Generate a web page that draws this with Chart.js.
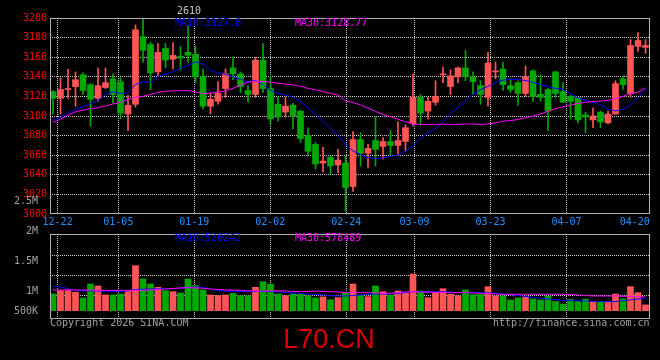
<!DOCTYPE html>
<html lang="zh-CN">
<head>
<meta charset="UTF-8" />
<title>L70.CN</title>
<style>
  * { margin: 0; padding: 0; box-sizing: border-box; }
  body { background: #000; width: 660px; height: 360px; overflow: hidden; }
  #board { position: relative; width: 660px; height: 360px; background: #000;
           font: 10px/12px "DejaVu Sans Mono", monospace; }
  #board canvas { position: absolute; left: 0; top: 0; }
  .txt { position: absolute; white-space: pre; }
  .blue { color: #0000ff; }
  .pink { color: #ff00ff; }
  .grey { color: #a0a0a0; }
  #code { left: 0; width: 658px; top: 326px; text-align: center;
          font: 27px/27px "Liberation Sans", Arial, sans-serif; color: #dd0000; }
</style>
</head>
<body>
<div id="board">
  <canvas id="price" width="660" height="360"></canvas>
  <canvas id="volume" width="660" height="360"></canvas>
  <div class="txt" style="left:177px;top:5px;color:#c8c8c8">2610</div>
  <div class="txt blue" style="left:175px;top:17px">MA10:3127.8</div>
  <div class="txt pink" style="left:295px;top:17px">MA30:3128.77</div>
  <div class="txt blue" style="left:175px;top:232px">MA10:520242</div>
  <div class="txt pink" style="left:295px;top:232px">MA30:578489</div>
  <div class="txt grey" style="left:50px;top:317px">Copyright 2026 SINA.COM</div>
  <div class="txt grey" style="left:493px;top:317px">http://finance.sina.com.cn</div>
  <div class="txt" id="code">L70.CN</div>
</div>

<script src="https://cdn.jsdelivr.net/npm/chart.js"></script>
<script>
  // trading days shown, oldest first
  const dates = [
    "12-19", "12-22", "12-23", "12-24", "12-25", "12-26", "12-29", "12-30", "12-31",
    "01-05", "01-06", "01-07", "01-08", "01-09", "01-12", "01-13", "01-14", "01-15", "01-16",
    "01-19", "01-20", "01-21", "01-22", "01-23", "01-26", "01-27", "01-28", "01-29", "01-30",
    "02-02", "02-03", "02-04", "02-05", "02-06", "02-09", "02-10", "02-11", "02-12", "02-13",
    "02-24", "02-25", "02-26", "02-27", "03-02", "03-03", "03-04", "03-05", "03-06",
    "03-09", "03-10", "03-11", "03-12", "03-13", "03-16", "03-17", "03-18", "03-19", "03-20",
    "03-23", "03-24", "03-25", "03-26", "03-27", "03-30", "03-31", "04-01", "04-02", "04-03",
    "04-07", "04-08", "04-09", "04-10", "04-13", "04-14", "04-15", "04-16", "04-17",
    "04-20", "04-21", "04-22"
  ];
  const dateTicks = ["12-22", "01-05", "01-19", "02-02", "02-24", "03-09", "03-23", "04-07", "04-20"];

  const open = [
    3125, 3118, 3127, 3130, 3142, 3132, 3118, 3129, 3138, 3135,
    3102, 3112, 3181, 3173, 3145, 3169, 3158, 3161, 3165, 3163,
    3140, 3110, 3115, 3128, 3149, 3143, 3126, 3122, 3157, 3128,
    3112, 3104, 3111, 3105, 3080, 3071, 3052, 3058, 3050, 3052,
    3028, 3076, 3062, 3075, 3069, 3074, 3070, 3074, 3092, 3119,
    3105, 3114, 3142, 3130, 3140, 3149, 3140, 3131, 3119, 3145,
    3148, 3131, 3134, 3123, 3146, 3122, 3127, 3145, 3125, 3120,
    3119, 3101, 3096, 3104, 3093, 3102, 3138, 3123, 3171, 3170
  ];
  const high = [
    3126, 3139, 3148, 3145, 3144, 3133, 3149, 3149, 3143, 3139,
    3121, 3193, 3199, 3175, 3174, 3174, 3175, 3171, 3192, 3171,
    3148, 3123, 3135, 3148, 3160, 3145, 3131, 3160, 3174, 3140,
    3119, 3119, 3113, 3106, 3088, 3073, 3068, 3059, 3066, 3059,
    3084, 3083, 3071, 3099, 3078, 3085, 3094, 3091, 3143, 3122,
    3119, 3136, 3150, 3147, 3150, 3167, 3145, 3136, 3165, 3155,
    3155, 3138, 3136, 3151, 3147, 3142, 3128, 3146, 3134, 3121,
    3119, 3104, 3108, 3105, 3105, 3136, 3141, 3178, 3185, 3178
  ];
  const low = [
    3102, 3102, 3118, 3110, 3122, 3090, 3115, 3128, 3113, 3097,
    3085, 3109, 3155, 3127, 3141, 3149, 3148, 3147, 3155, 3134,
    3107, 3102, 3112, 3119, 3137, 3124, 3114, 3119, 3124, 3092,
    3095, 3099, 3087, 3073, 3059, 3046, 3043, 3041, 3042, 3003,
    3023, 3049, 3047, 3049, 3056, 3060, 3061, 3064, 3090, 3091,
    3097, 3111, 3134, 3122, 3134, 3136, 3122, 3112, 3110, 3138,
    3126, 3124, 3111, 3120, 3115, 3115, 3085, 3119, 3114, 3097,
    3093, 3083, 3088, 3088, 3092, 3102, 3127, 3119, 3166, 3164
  ];
  const close = [
    3118, 3127, 3128, 3137, 3126, 3117, 3131, 3134, 3122, 3103,
    3111, 3188, 3167, 3144, 3165, 3157, 3162, 3159, 3162, 3140,
    3110, 3117, 3123, 3143, 3143, 3130, 3122, 3157, 3128, 3097,
    3099, 3110, 3100, 3077, 3064, 3051, 3054, 3049, 3055, 3027,
    3076, 3062, 3067, 3066, 3074, 3070, 3075, 3088, 3119, 3103,
    3115, 3120, 3143, 3141, 3149, 3140, 3135, 3122, 3154, 3146,
    3132, 3127, 3123, 3140, 3120, 3119, 3105, 3123, 3114, 3115,
    3096, 3099, 3100, 3094, 3102, 3133, 3132, 3172, 3177, 3172
  ];
  const ma10 = [
    3095.5, 3098.6, 3102.7, 3106.8, 3109.3, 3112.9, 3116.0, 3122.1, 3124.7, 3123.1,
    3123.6, 3132.3, 3134.7, 3134.7, 3140.5, 3142.6, 3145.1, 3148.2, 3151.8, 3155.2,
    3152.8, 3146.2, 3144.1, 3142.6, 3139.8, 3137.5, 3134.7, 3136.4, 3131.8, 3126.2,
    3123.0, 3121.6, 3119.0, 3114.6, 3108.3, 3101.6, 3094.5, 3086.8, 3080.1, 3071.0,
    3064.3, 3060.7, 3057.6, 3056.6, 3057.1, 3058.7, 3060.2, 3064.3, 3069.9, 3077.1,
    3082.7, 3087.3, 3093.5, 3102.7, 3108.8, 3115.0, 3122.1, 3126.7, 3130.3, 3133.9,
    3136.7, 3137.5, 3137.3, 3136.1, 3134.4, 3132.0, 3129.8, 3128.2, 3127.2, 3122.6,
    3118.5, 3116.0, 3113.9, 3111.4, 3106.8, 3105.2, 3106.8, 3111.4, 3118.0, 3127.8
  ];
  const ma30 = [
    3093.4, 3096.8, 3100.6, 3104.2, 3106.0, 3107.5, 3108.4, 3110.3, 3112.3, 3113.9,
    3117.0, 3119.0, 3120.1, 3122.1, 3124.2, 3125.2, 3125.7, 3125.9, 3125.9, 3124.5,
    3122.8, 3123.4, 3124.2, 3125.7, 3128.2, 3131.5, 3134.7, 3135.7, 3135.2, 3134.4,
    3133.4, 3132.6, 3131.8, 3130.3, 3128.2, 3126.7, 3125.0, 3123.1, 3121.4, 3115.5,
    3113.7, 3111.4, 3108.1, 3104.7, 3101.6, 3099.3, 3096.7, 3094.2, 3091.9, 3091.4,
    3091.4, 3091.4, 3091.7, 3091.4, 3091.4, 3091.9, 3091.9, 3091.4, 3091.9, 3093.1,
    3094.8, 3095.2, 3096.5, 3098.1, 3099.9, 3102.2, 3104.7, 3107.5, 3109.3, 3111.1,
    3112.9, 3113.9, 3114.7, 3115.3, 3115.8, 3117.8, 3120.1, 3122.8, 3124.2, 3128.8
  ];

  const volume = [
    701000, 840000, 840000, 773000, 533000, 1121000, 1037000, 659000, 659000, 701000,
    840000, 1890000, 1331000, 1121000, 979000, 840000, 798000, 743000, 1331000, 1050000,
    869000, 659000, 630000, 659000, 727000, 630000, 617000, 979000, 1218000, 1121000,
    701000, 630000, 701000, 701000, 630000, 533000, 575000, 462000, 546000, 735000,
    1121000, 659000, 588000, 1037000, 798000, 659000, 827000, 727000, 1541000, 827000,
    546000, 756000, 924000, 685000, 622000, 869000, 672000, 680000, 1008000, 622000,
    622000, 449000, 533000, 567000, 491000, 449000, 609000, 386000, 281000, 470000,
    386000, 483000, 386000, 386000, 386000, 701000, 491000, 1008000, 756000, 244000
  ];
  const volMa10 = [
    1037000, 995000, 932000, 848000, 827000, 827000, 827000, 819000, 806000, 806000,
    827000, 890000, 899000, 911000, 911000, 924000, 932000, 941000, 974000, 995000,
    974000, 911000, 848000, 827000, 806000, 806000, 798000, 806000, 806000, 798000,
    785000, 764000, 743000, 722000, 701000, 680000, 659000, 638000, 617000, 617000,
    638000, 659000, 680000, 701000, 701000, 701000, 722000, 764000, 798000, 798000,
    798000, 798000, 798000, 785000, 764000, 756000, 756000, 756000, 743000, 731000,
    701000, 672000, 638000, 596000, 554000, 521000, 491000, 462000, 437000, 420000,
    416000, 407000, 395000, 378000, 378000, 386000, 416000, 449000, 491000, 520242
  ];
  const volMa30 = [
    869000, 869000, 869000, 869000, 865000, 861000, 857000, 853000, 849000, 853000,
    849000, 857000, 857000, 869000, 890000, 911000, 932000, 953000, 966000, 953000,
    941000, 911000, 890000, 869000, 869000, 848000, 827000, 827000, 827000, 827000,
    827000, 827000, 806000, 798000, 806000, 827000, 806000, 798000, 785000, 764000,
    764000, 756000, 756000, 743000, 731000, 731000, 752000, 785000, 798000, 785000,
    773000, 773000, 773000, 756000, 756000, 756000, 743000, 731000, 714000, 701000,
    689000, 689000, 689000, 689000, 689000, 689000, 689000, 689000, 689000, 680000,
    659000, 638000, 617000, 617000, 617000, 617000, 610000, 600000, 590000, 578489
  ];
  const volTickLabels = ["2.5M", "2M", "1.5M", "1M", "500K"];

  Chart.defaults.font.family = '"DejaVu Sans Mono", monospace';
  Chart.defaults.font.size = 10;
  Chart.defaults.animation = false;
  Chart.defaults.plugins.legend.display = false;
  Chart.defaults.plugins.tooltip.enabled = false;

  const UP = "#ff5555";
  const DOWN = "#00a800";
  const GRID = "#c8c8c8";

  const candleColor = close.map((c, i) => (c >= open[i] ? UP : DOWN));
  const pts = arr => arr.map((y, x) => ({ x, y }));

  // candles sit on a 7.5px slot, sina's date grid uses a slightly wider step
  const X_MIN = -0.4;
  const X_MAX = X_MIN + dates.length;
  const gridStep = dates.length / (dates.length - 1);
  const tickPos = dateTicks.map(d => X_MIN + dates.indexOf(d) * gridStep);

  const frame = {
    id: "frame",
    afterDraw(chart) {
      const { ctx, chartArea: a } = chart;
      ctx.save();
      ctx.strokeStyle = "#b0b0b0";
      ctx.lineWidth = 1;
      ctx.strokeRect(a.left + 0.5, a.top + 0.5, a.right - a.left - 1, a.bottom - a.top - 1);
      ctx.restore();
    }
  };

  function dateAxis(height, showLabels) {
    return {
      type: "linear",
      min: X_MIN,
      max: X_MAX,
      bounds: "data",
      offset: false,
      afterBuildTicks: s => { s.ticks = tickPos.map(v => ({ value: v })); },
      afterFit: s => { s.height = height; },
      grid: {
        drawTicks: false,
        offset: false,
        color: c => (c.index === dateTicks.length - 1 ? "transparent" : GRID)
      },
      border: { display: false, dash: [1, 1] },
      ticks: {
        display: showLabels,
        autoSkip: false,
        maxRotation: 0,
        padding: 2,
        color: "#1e90ff",
        callback: (v, i) => dateTicks[i]
      }
    };
  }

  new Chart(document.getElementById("price"), {
    type: "bar",
    data: {
      datasets: [
        { type: "line", data: pts(ma30), borderColor: "#ff00ff", borderWidth: 1, pointRadius: 0, order: 0 },
        { type: "line", data: pts(ma10), borderColor: "#0000ff", borderWidth: 1, pointRadius: 0, order: 1 },
        {
          data: open.map((o, i) => ({ x: i, y: [o, close[i]] })),
          backgroundColor: candleColor, barThickness: 6, minBarLength: 1, grouped: false, order: 2
        },
        {
          data: low.map((l, i) => ({ x: i, y: [l, high[i]] })),
          backgroundColor: candleColor, barThickness: 1, grouped: false, order: 3
        }
      ]
    },
    options: {
      responsive: false,
      layout: { padding: { top: 18, right: 10, left: 0, bottom: 0 } },
      scales: {
        x: dateAxis(146, true),
        y: {
          min: 3000,
          max: 3200,
          afterFit: s => { s.width = 50; },
          grid: {
            drawTicks: false,
            color: c => (c.tick.value === 3000 || c.tick.value === 3200 ? "transparent" : GRID)
          },
          border: { display: false, dash: [1, 1] },
          ticks: { stepSize: 20, padding: 3, color: "#ff0000", callback: v => String(v) }
        }
      }
    },
    plugins: [frame]
  });

  // volume panel: bars read 42k per pixel, zero sits a little above the frame bottom
  const VOL_MAX = 3220000;
  const VOL_MIN = -350000;
  const volAt = row => VOL_MAX - (row - 234) * 42000;

  new Chart(document.getElementById("volume"), {
    type: "bar",
    data: {
      datasets: [
        { type: "line", data: pts(volMa30), borderColor: "#ff00ff", borderWidth: 1, pointRadius: 0, yAxisID: "yv", order: 0 },
        { type: "line", data: pts(volMa10), borderColor: "#0000ff", borderWidth: 1, pointRadius: 0, yAxisID: "yv", order: 1 },
        {
          data: pts(volume), backgroundColor: candleColor, barThickness: 6,
          grouped: false, yAxisID: "yv", order: 2
        }
      ]
    },
    options: {
      responsive: false,
      layout: { padding: { top: 234, right: 10, left: 0, bottom: 0 } },
      scales: {
        x: dateAxis(41, false),
        yl: {
          type: "linear",
          position: "left",
          min: VOL_MIN,
          max: VOL_MAX,
          bounds: "data",
          afterFit: s => { s.width = 50; },
          // sina prints these labels on its own uneven rows
          afterBuildTicks: s => { s.ticks = [201, 231, 261, 291, 311].map(r => ({ value: volAt(r) })); },
          grid: { display: false },
          border: { display: false },
          ticks: { autoSkip: false, padding: 4, color: "#a0a0a0", callback: (v, i) => volTickLabels[i] }
        },
        yv: {
          type: "linear",
          position: "right",
          min: VOL_MIN,
          max: VOL_MAX,
          bounds: "data",
          afterFit: s => { s.width = 0; },
          afterBuildTicks: s => { s.ticks = [255, 275, 295].map(r => ({ value: volAt(r) })); },
          grid: { drawTicks: false, color: GRID },
          border: { display: false, dash: [1, 1] },
          ticks: { display: false }
        }
      }
    },
    plugins: [frame]
  });
</script>
</body>
</html>
